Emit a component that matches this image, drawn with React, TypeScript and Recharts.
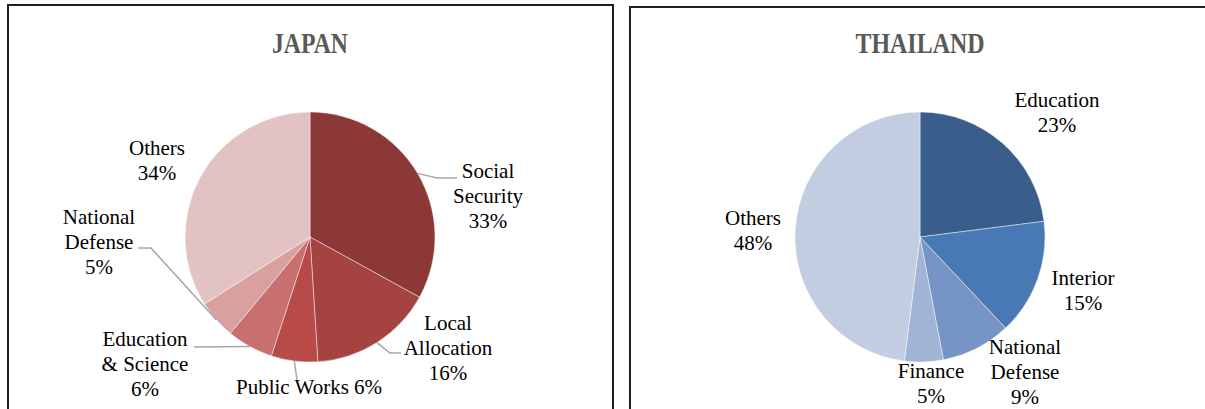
import { PieChart, Pie, Cell } from 'recharts';

const JAPAN_NAMES = ['Social Security', 'Local Allocation', 'Public Works', 'Education & Science', 'National Defense', 'Others'];
const JAPAN_VALUES = [33, 16, 6, 6, 5, 34];
const JAPAN_LINES = [['Social', 'Security', '33%'], ['Local', 'Allocation', '16%'], ['Public Works 6%'], ['Education', '& Science', '6%'], ['National', 'Defense', '5%'], ['Others', '34%']];

const THAI_NAMES = ['Education', 'Interior', 'National Defense', 'Finance', 'Others'];
const THAI_VALUES = [23, 15, 9, 5, 48];
const THAI_LINES = [['Education', '23%'], ['Interior', '15%'], ['National', 'Defense', '9%'], ['Finance', '5%'], ['Others', '48%']];

const JAPAN_COLORS = ['#8b3837', '#a54341', '#b84b48', '#c8706f', '#d8a09f', '#e3c2c4'];
const THAI_COLORS = ['#3a5e8b', '#4879b4', '#7694c6', '#a1b4d6', '#c2cde2'];

// label block centres, relative to the pie centre
const JAPAN_LABEL_POS = [[178, -41], [138, 111], [-1, 150], [-165, 127], [-211, 5], [-153, -77]];
const THAI_LABEL_POS = [[137, -125], [163, 53], [105, 135], [11, 146], [-167, -7]];

// leader lines: [elbowX, elbowY, endX, endY] relative to pie centre
const JAPAN_LEADERS: (number[] | null)[] = [[127, -59, 147, -59], [80, 116, 91, 116], [-13, 143, -13, 143], [-116, 110, -116, 110], [-159, 11, -172, 11], null];

const FONT = '"Liberation Serif", "Times New Roman", serif';
const RAD = Math.PI / 180;

const makeLabel = (lines: string[][], pos: number[][], leaders: (number[] | null)[] | null) => (props: any) => {
  const { cx, cy, midAngle, outerRadius, index } = props;
  const [lx, ly] = pos[index];
  const text = lines[index];
  const leader = leaders ? leaders[index] : null;
  const ex = cx + outerRadius * Math.cos(-midAngle * RAD);
  const ey = cy + outerRadius * Math.sin(-midAngle * RAD);
  return (
    <g key={`lbl-${index}`}>
      {leader && (
        <polyline
          points={`${ex},${ey} ${cx + leader[0]},${cy + leader[1]} ${cx + leader[2]},${cy + leader[3]}`}
          fill="none"
          stroke="#a6a6a6"
          strokeWidth={1.5}
        />
      )}
      {text.map((t, i) => (
        <text
          key={i}
          x={cx + lx}
          y={cy + ly + (i - (text.length - 1) / 2) * 25 + 7}
          textAnchor="middle"
          fontFamily={FONT}
          fontSize={21}
          fill="#000"
        >
          {t}
        </text>
      ))}
    </g>
  );
};

const japanData = JAPAN_NAMES.map((name, i) => ({ name, value: JAPAN_VALUES[i] }));
const thaiData = THAI_NAMES.map((name, i) => ({ name, value: THAI_VALUES[i] }));

export default function App() {
  return (
    <div style={{ position: 'absolute', left: 0, top: 0, width: 1205, height: 409, overflow: 'hidden', background: '#fff' }}>
      <div style={{ position: 'absolute', left: 7, top: 4, width: 603, height: 430, border: '2px solid #1e1e1e' }} />
      <div style={{ position: 'absolute', left: 629, top: 6, width: 600, height: 430, border: '2px solid #1e1e1e' }} />
      <div style={{ position: 'absolute', left: 0, top: 0 }}>
        <PieChart width={1205} height={409} margin={{ top: 0, right: 0, bottom: 0, left: 0 }}>
          <defs>
            <filter id="pieShadow" x="-10%" y="-10%" width="120%" height="120%">
              <feDropShadow dx="0" dy="0" stdDeviation="2" floodColor="#000" floodOpacity="0.25" />
            </filter>
          </defs>
          <text x={310} y={53} textAnchor="middle" fontFamily={FONT} fontWeight="bold" fontSize={30} textLength={76} lengthAdjust="spacingAndGlyphs" fill="#595959">
            JAPAN
          </text>
          <text x={920} y={53} textAnchor="middle" fontFamily={FONT} fontWeight="bold" fontSize={30} textLength={129} lengthAdjust="spacingAndGlyphs" fill="#595959">
            THAILAND
          </text>
          <Pie
            data={japanData}
            dataKey="value"
            nameKey="name"
            cx={310}
            cy={237}
            outerRadius={125}
            startAngle={90}
            endAngle={-270}
            stroke="rgba(255,255,255,0.45)"
            strokeWidth={1}
            label={makeLabel(JAPAN_LINES, JAPAN_LABEL_POS, JAPAN_LEADERS)}
            labelLine={false}
            isAnimationActive={false}
          >
            {japanData.map((d, i) => (
              <Cell key={d.name} fill={JAPAN_COLORS[i]} />
            ))}
          </Pie>
          <Pie
            data={thaiData}
            dataKey="value"
            nameKey="name"
            cx={920}
            cy={237}
            outerRadius={125}
            startAngle={90}
            endAngle={-270}
            stroke="rgba(255,255,255,0.45)"
            strokeWidth={1}
            label={makeLabel(THAI_LINES, THAI_LABEL_POS, null)}
            labelLine={false}
            isAnimationActive={false}
          >
            {thaiData.map((d, i) => (
              <Cell key={d.name} fill={THAI_COLORS[i]} />
            ))}
          </Pie>
        </PieChart>
      </div>
    </div>
  );
}
